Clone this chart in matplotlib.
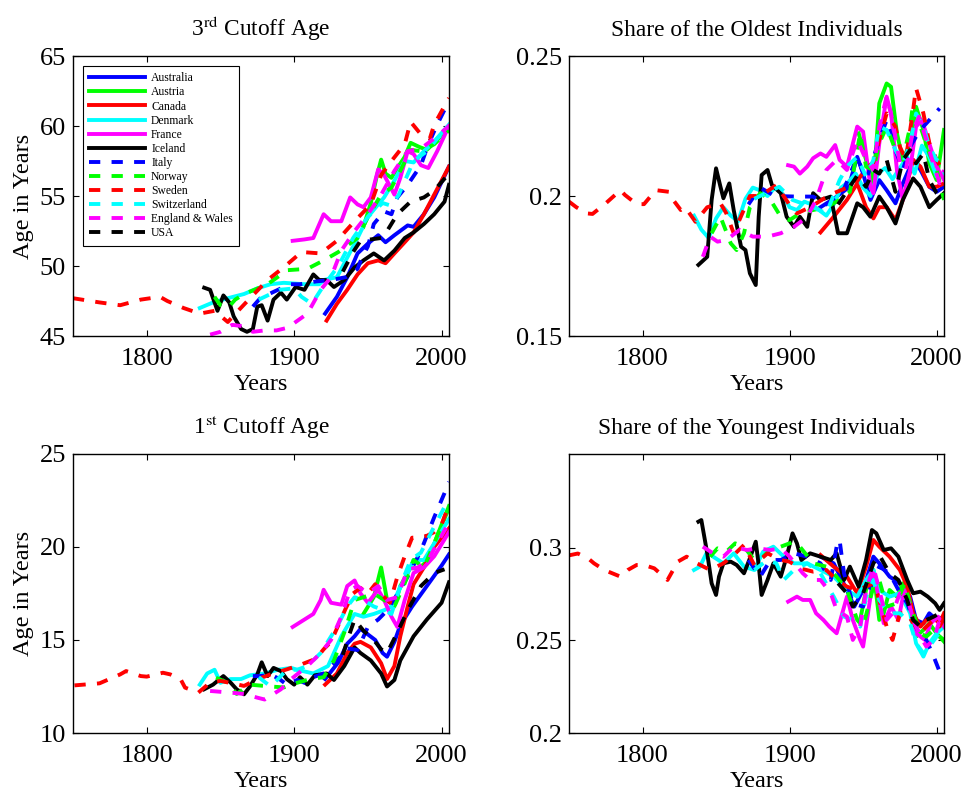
import matplotlib
matplotlib.use("Agg")
import matplotlib.pyplot as plt

plt.rcParams['font.family'] = ['Liberation Serif', 'DejaVu Serif']
plt.rcParams['mathtext.fontset'] = 'stix'

countries = ['Australia', 'Austria', 'Canada', 'Denmark', 'France', 'Iceland',
             'Italy', 'Norway', 'Sweden', 'Switzerland', 'England & Wales', 'USA']
colors = ['#0000ff', '#00ff00', '#ff0000', '#00ffff', '#ff00ff', '#000000',
          '#0000ff', '#00ff00', '#ff0000', '#00ffff', '#ff00ff', '#000000']
dashed = [False] * 6 + [True] * 6

# ---- 3rd cutoff age (top left) ----
c3_australia = [(1921, 46.6), (1929, 47.8), (1936, 49.2), (1943, 50.9), (1950, 51.6), (1957, 52.2), (1962, 51.7),
                (1968, 52.2), (1977, 52.9), (1981, 52.8), (1988, 53.7), (1995, 54.9), (2005, 57.1)]
c3_austria = [(1947, 52.8), (1952, 54.5), (1956, 56.4), (1959, 57.6), (1962, 56.6), (1966, 56.3), (1970, 57.0),
              (1975, 57.8), (1979, 58.8), (1985, 58.5), (1990, 58.3), (1995, 58.8), (2005, 59.8)]
c3_canada = [(1922, 46.1), (1929, 47.3), (1936, 48.3), (1943, 49.4), (1950, 50.2), (1957, 50.4), (1962, 50.2),
             (1968, 50.9), (1975, 51.7), (1981, 52.4), (1988, 53.7), (1995, 55.1), (2005, 57.1)]
c3_denmark = [(1836, 47.0), (1845, 47.4), (1855, 47.7), (1866, 48.0), (1875, 48.4), (1884, 48.7), (1893, 48.8),
              (1907, 48.7), (1917, 48.7), (1920, 49.0), (1929, 49.2), (1936, 50.6), (1943, 52.0), (1950, 53.5),
              (1957, 54.4), (1961, 54.9), (1968, 56.1), (1975, 57.5), (1981, 57.4), (1988, 58.2), (1995, 58.9),
              (2005, 60.1)]
c3_france = [(1899, 51.8), (1907, 51.9), (1913, 52.0), (1920, 53.7), (1925, 53.2), (1932, 53.2), (1938, 54.9),
             (1943, 54.4), (1947, 54.2), (1952, 54.9), (1957, 56.9), (1961, 56.5), (1968, 55.1), (1972, 56.3),
             (1977, 58.2), (1981, 58.0), (1986, 57.2), (1991, 57.0), (1997, 58.2), (2005, 60.0)]
c3_iceland = [(1839, 48.45), (1843, 48.3), (1848, 46.8), (1852, 47.9), (1856, 47.4), (1859, 46.4), (1864, 45.5),
              (1868, 45.3), (1872, 45.5), (1875, 47.1), (1878, 47.2), (1882, 46.1), (1886, 47.6), (1891, 48.1),
              (1895, 47.6), (1901, 48.5), (1907, 48.3), (1913, 49.4), (1917, 49.0), (1922, 49.0), (1927, 48.5),
              (1934, 49.0), (1941, 49.9), (1947, 50.4), (1954, 50.9), (1961, 50.4), (1968, 51.1), (1975, 52.0),
              (1981, 52.4), (1988, 53.0), (1995, 53.7), (2002, 54.6), (2005, 55.8)]
c3_italy = [(1872, 47.1), (1877, 47.7), (1885, 48.1), (1897, 48.7), (1904, 48.7), (1915, 48.9), (1925, 49.0),
            (1935, 49.2), (1943, 49.8), (1946, 50.6), (1950, 51.4), (1954, 53.0), (1961, 53.9), (1966, 53.7),
            (1970, 54.9), (1977, 55.8), (1986, 57.2), (1991, 58.7), (1997, 60.1), (2005, 61.8)]
c3_norway = [(1846, 47.8), (1850, 47.2), (1855, 47.0), (1860, 47.6), (1866, 48.0), (1873, 48.3), (1882, 48.7),
             (1890, 49.3), (1895, 49.7), (1909, 49.8), (1920, 50.4), (1930, 51.0), (1943, 52.0), (1950, 53.5),
             (1959, 55.1), (1966, 55.6), (1972, 56.8), (1979, 58.3), (1986, 58.2), (1995, 58.7), (2005, 59.7)]
c3_sweden = [(1750, 47.7), (1768, 47.4), (1782, 47.2), (1796, 47.6), (1809, 47.8), (1814, 47.5), (1825, 47.0),
             (1836, 46.6), (1846, 46.8), (1855, 46.0), (1862, 46.8), (1871, 47.8), (1882, 49.0), (1894, 50.0),
             (1905, 51.0), (1918, 50.9), (1929, 51.8), (1941, 53.2), (1952, 54.4), (1959, 56.5), (1966, 57.5),
             (1975, 58.7), (1979, 60.3), (1986, 59.4), (1992, 59.1), (1995, 60.1), (2005, 62.0)]
c3_switzerland = [(1876, 47.6), (1890, 48.3), (1900, 48.4), (1905, 47.8), (1912, 47.3), (1920, 48.6), (1930, 50.0),
                  (1940, 52.0), (1950, 53.5), (1960, 54.5), (1966, 54.3), (1971, 55.1), (1981, 57.5), (1990, 58.2),
                  (1997, 59.1), (2005, 59.9)]
c3_england = [(1843, 45.1), (1850, 45.3), (1858, 45.8), (1865, 45.7), (1872, 45.3), (1880, 45.4), (1888, 45.4),
              (1896, 45.6), (1901, 46.0), (1909, 46.6), (1918, 48.3), (1925, 49.2), (1932, 51.1), (1941, 52.5),
              (1950, 53.7), (1959, 55.1), (1968, 56.8), (1977, 58.2), (1986, 58.4), (1995, 59.1), (2005, 60.0)]
c3_usa = [(1933, 49.6), (1940, 51.0), (1945, 51.8), (1952, 51.9), (1959, 52.0), (1963, 52.5), (1970, 53.7),
          (1979, 54.6), (1988, 54.9), (1995, 55.4), (2005, 56.6)]

# ---- share of the oldest (top right) ----
old_australia = [(1921, 0.196), (1930, 0.199), (1940, 0.203), (1946, 0.214), (1950, 0.208), (1955, 0.1986),
                 (1961, 0.2057), (1966, 0.2021), (1972, 0.1974), (1977, 0.2045), (1984, 0.2129), (1989, 0.2093),
                 (1995, 0.2033), (2000, 0.2015), (2005, 0.2033)]
old_austria = [(1947, 0.2224), (1952, 0.2129), (1957, 0.2045), (1961, 0.2331), (1966, 0.2402), (1969, 0.239),
               (1973, 0.2224), (1977, 0.2129), (1982, 0.2188), (1986, 0.2319), (1991, 0.2236), (1995, 0.2117),
               (2000, 0.2057), (2005, 0.2236)]
old_canada = [(1921, 0.187), (1930, 0.1926), (1939, 0.1986), (1946, 0.2045), (1952, 0.196), (1957, 0.192),
              (1961, 0.196), (1966, 0.196), (1972, 0.1914), (1977, 0.1986), (1984, 0.2129), (1989, 0.2105),
              (1995, 0.2033), (2000, 0.2033), (2005, 0.2045)]
old_denmark = [(1835, 0.193), (1840, 0.188), (1845, 0.185), (1850, 0.192), (1855, 0.196), (1860, 0.193),
               (1865, 0.191), (1870, 0.199), (1875, 0.203), (1880, 0.202), (1885, 0.200), (1890, 0.203),
               (1895, 0.201), (1900, 0.196), (1905, 0.195), (1910, 0.198), (1915, 0.197), (1920, 0.195),
               (1925, 0.193), (1930, 0.197), (1935, 0.203), (1940, 0.205), (1945, 0.208), (1950, 0.203),
               (1955, 0.200), (1960, 0.208), (1965, 0.210), (1970, 0.206), (1975, 0.210), (1980, 0.214),
               (1985, 0.208), (1990, 0.218), (1995, 0.214), (2000, 0.207), (2005, 0.208)]
old_france = [(1899, 0.211), (1903, 0.2105), (1907, 0.208), (1912, 0.2105), (1916, 0.2135), (1921, 0.2152),
              (1925, 0.214), (1931, 0.2182), (1934, 0.2129), (1939, 0.2105), (1946, 0.2248), (1950, 0.223),
              (1955, 0.2033), (1957, 0.201), (1961, 0.2188), (1966, 0.2355), (1969, 0.2295), (1973, 0.2093),
              (1977, 0.1986), (1982, 0.2093), (1986, 0.2248), (1990, 0.2271), (1995, 0.2188), (2000, 0.2105),
              (2005, 0.2057)]
old_iceland = [(1838, 0.1754), (1844, 0.1783), (1847, 0.1986), (1850, 0.2099), (1853, 0.2033), (1855, 0.1992),
               (1859, 0.2045), (1862, 0.195), (1867, 0.1819), (1870, 0.1807), (1873, 0.1724), (1877, 0.1682),
               (1879, 0.1926), (1881, 0.2075), (1885, 0.2093), (1888, 0.2039), (1894, 0.201), (1898, 0.1926),
               (1903, 0.189), (1907, 0.1926), (1912, 0.189), (1916, 0.201), (1921, 0.1986), (1928, 0.1998),
               (1933, 0.1867), (1939, 0.1867), (1946, 0.1974), (1950, 0.196), (1955, 0.1926), (1961, 0.1998),
               (1966, 0.196), (1972, 0.1902), (1977, 0.1986), (1984, 0.2063), (1989, 0.2033), (1995, 0.196),
               (2000, 0.1986), (2005, 0.201)]
old_italy = [(1872, 0.197), (1880, 0.203), (1890, 0.200), (1905, 0.1998), (1916, 0.1998), (1925, 0.197),
             (1935, 0.200), (1946, 0.214), (1952, 0.2057), (1961, 0.220), (1966, 0.2271), (1972, 0.2164),
             (1977, 0.2093), (1982, 0.2176), (1986, 0.2212), (1991, 0.2248), (1995, 0.2271), (2002, 0.2313)]
old_norway = [(1847, 0.1867), (1853, 0.1926), (1860, 0.1831), (1864, 0.1807), (1869, 0.1867), (1873, 0.196),
              (1880, 0.201), (1887, 0.1986), (1894, 0.1926), (1900, 0.1914), (1907, 0.1938), (1916, 0.195),
              (1925, 0.196), (1934, 0.1986), (1941, 0.2015), (1948, 0.2224), (1952, 0.2105), (1957, 0.2093),
              (1961, 0.2188), (1966, 0.2248), (1972, 0.2164), (1977, 0.2129), (1982, 0.2248), (1984, 0.2331),
              (1989, 0.2248), (1995, 0.2152), (2000, 0.2093), (2005, 0.1986)]
old_sweden = [(1750, 0.198), (1755, 0.196), (1762, 0.1938), (1766, 0.1936), (1775, 0.1974), (1785, 0.2021),
              (1788, 0.2004), (1796, 0.1971), (1801, 0.1971), (1809, 0.2021), (1818, 0.2015), (1820, 0.1992),
              (1826, 0.195), (1829, 0.196), (1836, 0.1908), (1844, 0.196), (1853, 0.1974), (1857, 0.1938),
              (1862, 0.1867), (1868, 0.194), (1873, 0.200), (1880, 0.200), (1891, 0.2039), (1900, 0.1968),
              (1905, 0.1938), (1914, 0.196), (1923, 0.199), (1930, 0.201), (1939, 0.203), (1945, 0.2045),
              (1952, 0.210), (1957, 0.212), (1961, 0.220), (1966, 0.2295), (1972, 0.2248), (1975, 0.2176),
              (1979, 0.213), (1984, 0.2307), (1986, 0.2385), (1991, 0.2295), (1995, 0.219), (2000, 0.213),
              (2005, 0.208)]
old_switzerland = [(1876, 0.199), (1893, 0.2033), (1902, 0.1986), (1916, 0.196), (1925, 0.1938), (1934, 0.2057),
                   (1939, 0.2105), (1946, 0.214), (1952, 0.2069), (1957, 0.2129), (1961, 0.2248), (1966, 0.2236),
                   (1972, 0.2164), (1977, 0.2117), (1982, 0.2188), (1986, 0.2295), (1991, 0.2248), (1995, 0.2176),
                   (2000, 0.2129), (2005, 0.2117)]
old_england = [(1841, 0.1783), (1846, 0.1855), (1851, 0.1837), (1857, 0.1843), (1866, 0.1879), (1875, 0.1855),
               (1885, 0.1855), (1894, 0.1867), (1903, 0.189), (1912, 0.1926), (1918, 0.1986), (1925, 0.2093),
               (1932, 0.2129), (1939, 0.2093), (1946, 0.220), (1952, 0.2129), (1957, 0.2093), (1961, 0.2248),
               (1966, 0.2355), (1970, 0.2271), (1975, 0.2117), (1979, 0.2093), (1984, 0.2236), (1988, 0.2283),
               (1993, 0.220), (1997, 0.2129), (2002, 0.2045), (2005, 0.2093)]
old_usa = [(1933, 0.197), (1946, 0.2073), (1952, 0.2033), (1957, 0.2093), (1961, 0.208), (1966, 0.2129),
           (1972, 0.2015), (1977, 0.2129), (1982, 0.2164), (1986, 0.2117), (1991, 0.2152), (1995, 0.2057),
           (2000, 0.201), (2005, 0.1986)]

# ---- 1st cutoff age (bottom left) ----
c1_australia = [(1921, 12.9), (1930, 13.8), (1936, 14.8), (1941, 15.2), (1945, 15.6), (1950, 15.3), (1955, 15.0),
                (1960, 14.3), (1963, 14.1), (1968, 14.9), (1972, 15.8), (1980, 16.8), (1990, 17.9), (2000, 19.0),
                (2005, 19.6)]
c1_austria = [(1947, 16.4), (1954, 17.3), (1959, 18.9), (1963, 17.15), (1968, 16.8), (1972, 17.9), (1979, 18.9),
              (1984, 18.8), (1991, 19.3), (1997, 20.6), (2005, 22.2)]
c1_canada = [(1921, 12.6), (1929, 13.2), (1936, 14.3), (1941, 14.8), (1945, 14.9), (1952, 14.6), (1959, 13.75),
             (1963, 12.9), (1968, 13.6), (1972, 15.2), (1977, 16.8), (1981, 18.0), (1988, 18.9), (1995, 20.0),
             (2005, 21.0)]
c1_denmark = [(1836, 12.6), (1841, 13.2), (1846, 13.4), (1850, 12.7), (1857, 12.9), (1864, 12.9), (1870, 13.1),
              (1880, 13.2), (1889, 13.4), (1898, 13.5), (1902, 13.4), (1913, 13.2), (1923, 13.6), (1932, 15.2),
              (1941, 16.4), (1947, 16.25), (1954, 16.4), (1961, 16.6), (1966, 16.8), (1970, 17.5), (1977, 18.6),
              (1981, 19.3), (1988, 19.3), (1995, 20.2), (2005, 21.5)]
c1_france = [(1899, 15.7), (1907, 16.1), (1913, 16.4), (1918, 17.15), (1920, 17.7), (1925, 17.0), (1932, 16.9),
             (1936, 17.9), (1941, 18.2), (1945, 17.5), (1950, 17.0), (1957, 17.7), (1961, 17.15), (1966, 16.25),
             (1970, 15.7), (1975, 17.15), (1981, 18.6), (1988, 18.9), (1995, 19.5), (2005, 20.8)]
c1_iceland = [(1839, 12.35), (1845, 12.6), (1852, 13.06), (1857, 12.7), (1861, 12.35), (1866, 12.08), (1870, 12.5),
              (1875, 13.15), (1878, 13.8), (1882, 13.06), (1886, 13.5), (1891, 13.33), (1895, 12.9), (1900, 12.6),
              (1904, 13.0), (1909, 12.6), (1914, 13.1), (1922, 13.2), (1927, 12.85), (1934, 13.6), (1941, 14.6),
              (1945, 14.3), (1952, 13.9), (1959, 13.2), (1963, 12.5), (1968, 12.85), (1972, 13.9), (1981, 15.2),
              (1990, 16.1), (2000, 17.0), (2005, 18.1)]
c1_italy = [(1872, 13.06), (1877, 13.06), (1884, 13.15), (1890, 12.9), (1895, 12.6), (1902, 12.85), (1907, 12.7),
            (1913, 13.0), (1920, 13.2), (1928, 13.8), (1936, 14.55), (1943, 14.46), (1950, 15.7), (1957, 16.1),
            (1962, 16.5), (1968, 17.2), (1977, 18.4), (1986, 19.8), (1995, 21.6), (2002, 22.9), (2005, 23.5)]
c1_norway = [(1847, 12.97), (1855, 12.7), (1861, 12.1), (1870, 12.6), (1884, 12.5), (1893, 12.45), (1902, 12.7),
             (1911, 12.9), (1920, 13.0), (1927, 13.9), (1934, 15.4), (1941, 17.15), (1947, 17.3), (1954, 17.5),
             (1961, 17.15), (1968, 16.8), (1975, 18.05), (1981, 19.3), (1988, 18.9), (1995, 20.2), (2005, 22.1)]
c1_sweden = [(1751, 12.56), (1768, 12.67), (1782, 13.15), (1786, 13.33), (1796, 13.06), (1800, 13.03),
             (1811, 13.24), (1816, 13.15), (1823, 12.89), (1826, 12.44), (1835, 12.17), (1843, 12.71), (1850, 12.8),
             (1861, 12.62), (1866, 12.53), (1875, 12.89), (1884, 13.15), (1895, 13.42), (1905, 13.69), (1915, 14.0),
             (1920, 14.5), (1925, 14.9), (1930, 15.8), (1935, 16.7), (1940, 17.5), (1945, 17.8), (1950, 17.5),
             (1955, 18.0), (1960, 17.4), (1965, 17.0), (1970, 18.4), (1975, 19.5), (1980, 20.5), (1985, 20.5),
             (1990, 20.6), (1995, 20.8), (2000, 21.2), (2005, 22.3)]
c1_switzerland = [(1876, 13.0), (1884, 12.5), (1889, 12.9), (1895, 13.4), (1902, 13.4), (1909, 13.6), (1918, 14.3),
                  (1929, 15.7), (1936, 16.8), (1941, 17.3), (1947, 17.15), (1954, 16.8), (1961, 16.6), (1966, 16.4),
                  (1972, 17.9), (1979, 19.3), (1986, 19.7), (1995, 21.1), (2005, 22.6)]
c1_england = [(1843, 12.26), (1857, 12.17), (1866, 12.1), (1875, 11.9), (1880, 11.8), (1886, 12.1), (1891, 12.35),
              (1898, 12.9), (1909, 13.6), (1918, 14.3), (1925, 15.0), (1932, 16.25), (1938, 17.7), (1943, 17.9),
              (1950, 17.5), (1957, 17.9), (1963, 17.15), (1970, 17.3), (1977, 18.8), (1984, 18.9), (1991, 19.3),
              (1997, 20.2), (2005, 21.3)]
c1_usa = [(1933, 14.2), (1937, 15.2), (1941, 16.1), (1947, 15.5), (1954, 15.0), (1959, 14.5), (1963, 14.3),
          (1970, 15.4), (1977, 16.6), (1986, 17.9), (1995, 18.6), (2002, 18.8)]

# ---- share of the youngest (bottom right) ----
yng_australia = [(1921, 0.2953), (1930, 0.2917), (1939, 0.2773), (1944, 0.2683), (1950, 0.2773), (1957, 0.2953),
                 (1961, 0.2917), (1968, 0.2845), (1975, 0.2809), (1982, 0.2737), (1986, 0.2611), (1991, 0.2593),
                 (1995, 0.2647), (2000, 0.2611), (2005, 0.2629)]
yng_austria = [(1948, 0.2611), (1952, 0.2773), (1957, 0.2881), (1961, 0.2611), (1964, 0.2647), (1968, 0.2773),
               (1973, 0.2737), (1977, 0.2809), (1982, 0.2683), (1986, 0.2521), (1991, 0.2557), (1995, 0.2593),
               (2000, 0.2539), (2005, 0.2494)]
yng_canada = [(1921, 0.2962), (1930, 0.2899), (1939, 0.2845), (1946, 0.2755), (1952, 0.2899), (1957, 0.3043),
              (1961, 0.3007), (1968, 0.2953), (1975, 0.2881), (1980, 0.2791), (1984, 0.2647), (1989, 0.2575),
              (1993, 0.2611), (1998, 0.262), (2002, 0.2593), (2005, 0.2647)]
yng_denmark = [(1835, 0.2881), (1839, 0.2899), (1844, 0.298), (1848, 0.2953), (1855, 0.2917), (1862, 0.2971),
               (1869, 0.2899), (1876, 0.2881), (1882, 0.298), (1889, 0.3007), (1896, 0.2953), (1903, 0.2917),
               (1912, 0.2917), (1921, 0.2881), (1930, 0.2845), (1939, 0.2773), (1946, 0.2737), (1952, 0.2827),
               (1957, 0.2881), (1961, 0.2773), (1968, 0.2737), (1975, 0.2755), (1982, 0.2647), (1986, 0.2485),
               (1991, 0.2413), (1995, 0.2485), (2000, 0.2539), (2005, 0.2575)]
yng_france = [(1899, 0.271), (1905, 0.2737), (1909, 0.2719), (1914, 0.2719), (1918, 0.2647), (1923, 0.2611),
              (1927, 0.2575), (1932, 0.2539), (1939, 0.2737), (1943, 0.2611), (1948, 0.2503), (1950, 0.2467),
              (1955, 0.2737), (1957, 0.2863), (1960, 0.2755), (1964, 0.2593), (1969, 0.2683), (1974, 0.2611),
              (1978, 0.2773), (1983, 0.2647), (1986, 0.2539), (1992, 0.2503), (1996, 0.2593), (2001, 0.2629),
              (2005, 0.2575)]
yng_iceland = [(1838, 0.3142), (1840, 0.3151), (1844, 0.2971), (1847, 0.2809), (1850, 0.2746), (1852, 0.2845),
               (1855, 0.2917), (1860, 0.2926), (1864, 0.2908), (1869, 0.2863), (1873, 0.2944), (1877, 0.3034),
               (1879, 0.2908), (1881, 0.2746), (1885, 0.2827), (1889, 0.2917), (1894, 0.2845), (1898, 0.2953),
               (1902, 0.3079), (1905, 0.3025), (1908, 0.2935), (1914, 0.2971), (1921, 0.2953), (1928, 0.2935),
               (1932, 0.2971), (1937, 0.2827), (1941, 0.2899), (1947, 0.2791), (1952, 0.2935), (1956, 0.3097),
               (1959, 0.3079), (1964, 0.2989), (1969, 0.2998), (1974, 0.2953), (1980, 0.2827), (1984, 0.2755),
               (1989, 0.2764), (1994, 0.2737), (1999, 0.2701), (2002, 0.2665), (2005, 0.2701)]
yng_italy = [(1872, 0.2935), (1880, 0.2845), (1887, 0.2935), (1894, 0.2935), (1903, 0.2971), (1912, 0.2953),
             (1921, 0.2917), (1928, 0.2827), (1932, 0.3007), (1934, 0.3043), (1937, 0.2863), (1943, 0.2701),
             (1950, 0.2683), (1957, 0.2827), (1961, 0.2899), (1968, 0.2863), (1974, 0.2773), (1980, 0.2701),
             (1984, 0.2611), (1989, 0.2521), (1993, 0.2503), (1998, 0.2413), (2002, 0.2332)]
yng_norway = [(1846, 0.2953), (1851, 0.2998), (1857, 0.298), (1863, 0.3025), (1869, 0.3007), (1876, 0.2935),
              (1882, 0.2953), (1889, 0.3007), (1894, 0.3007), (1903, 0.3034), (1907, 0.3007), (1916, 0.2917),
              (1925, 0.2899), (1932, 0.2845), (1939, 0.2773), (1946, 0.2611), (1950, 0.2575), (1957, 0.2791),
              (1961, 0.2827), (1966, 0.2683), (1973, 0.2701), (1978, 0.2809), (1984, 0.2647), (1989, 0.2539),
              (1993, 0.2521), (1998, 0.2557), (2002, 0.2521), (2005, 0.2503)]
yng_sweden = [(1750, 0.296), (1756, 0.297), (1763, 0.2944), (1767, 0.2917), (1774, 0.2881), (1785, 0.2845),
              (1790, 0.2881), (1796, 0.2908), (1801, 0.2908), (1808, 0.289), (1817, 0.2827), (1824, 0.2926),
              (1830, 0.2953), (1837, 0.2917), (1846, 0.2881), (1855, 0.2917), (1862, 0.2962), (1869, 0.3016),
              (1876, 0.2908), (1885, 0.2971), (1894, 0.2935), (1900, 0.2926), (1907, 0.289), (1916, 0.2872),
              (1925, 0.2881), (1932, 0.2827), (1939, 0.2791), (1946, 0.2773), (1952, 0.2791), (1957, 0.2809),
              (1961, 0.2719), (1966, 0.2575), (1970, 0.2503), (1975, 0.2647), (1980, 0.2647), (1984, 0.2593),
              (1989, 0.2539), (1993, 0.2575), (1998, 0.2611), (2002, 0.2575), (2005, 0.262)]
yng_switzerland = [(1876, 0.2881), (1885, 0.2935), (1891, 0.2917), (1896, 0.2827), (1903, 0.2881), (1912, 0.2917),
                   (1921, 0.2863), (1930, 0.2737), (1937, 0.2629), (1943, 0.2611), (1948, 0.2575), (1952, 0.2737),
                   (1957, 0.2827), (1961, 0.2719), (1968, 0.2647), (1975, 0.2647), (1982, 0.2593), (1986, 0.2485),
                   (1991, 0.2431), (1995, 0.2467), (2000, 0.2521), (2005, 0.2575)]
yng_england = [(1841, 0.3007), (1848, 0.2971), (1855, 0.2953), (1862, 0.3007), (1871, 0.2989), (1878, 0.2998),
               (1887, 0.2989), (1894, 0.2998), (1900, 0.2953), (1909, 0.2863), (1914, 0.2827), (1921, 0.2827),
               (1928, 0.2755), (1932, 0.2665), (1939, 0.2629), (1943, 0.2503), (1948, 0.2575), (1952, 0.2773),
               (1957, 0.2899), (1961, 0.2773), (1966, 0.2611), (1970, 0.2647), (1975, 0.2755), (1980, 0.2737),
               (1984, 0.2611), (1989, 0.2521), (1993, 0.2467), (1998, 0.2503), (2002, 0.2611), (2005, 0.2593)]
yng_usa = [(1933, 0.2809), (1939, 0.2755), (1943, 0.2683), (1950, 0.2755), (1957, 0.2917), (1961, 0.2962),
           (1968, 0.2863), (1974, 0.2827), (1980, 0.2719), (1984, 0.2611), (1989, 0.2575), (1993, 0.2611),
           (1998, 0.2629), (2002, 0.2647)]

cut3 = [c3_australia, c3_austria, c3_canada, c3_denmark, c3_france, c3_iceland,
        c3_italy, c3_norway, c3_sweden, c3_switzerland, c3_england, c3_usa]
oldest = [old_australia, old_austria, old_canada, old_denmark, old_france, old_iceland,
          old_italy, old_norway, old_sweden, old_switzerland, old_england, old_usa]
cut1 = [c1_australia, c1_austria, c1_canada, c1_denmark, c1_france, c1_iceland,
        c1_italy, c1_norway, c1_sweden, c1_switzerland, c1_england, c1_usa]
youngest = [yng_australia, yng_austria, yng_canada, yng_denmark, yng_france, yng_iceland,
            yng_italy, yng_norway, yng_sweden, yng_switzerland, yng_england, yng_usa]

fig = plt.figure(figsize=(9.68, 7.97), dpi=100)
ax_tl = fig.add_axes([0.0754, 0.5784, 0.3884, 0.3513])
ax_tr = fig.add_axes([0.5878, 0.5784, 0.3874, 0.3513])
ax_bl = fig.add_axes([0.0754, 0.0803, 0.3884, 0.3501])
ax_br = fig.add_axes([0.5878, 0.0803, 0.3874, 0.3501])

lw = 2.8
panels = [
    (ax_tl, cut3, r'3$^{\mathrm{rd}}$ Cutoff Age', (45, 65), [45, 50, 55, 60, 65], ['45', '50', '55', '60', '65']),
    (ax_tr, oldest, 'Share of the Oldest Individuals', (0.15, 0.25), [0.15, 0.2, 0.25], ['0.15', '0.2', '0.25']),
    (ax_bl, cut1, r'1$^{\mathrm{st}}$ Cutoff Age', (10, 25), [10, 15, 20, 25], ['10', '15', '20', '25']),
    (ax_br, youngest, 'Share of the Youngest Individuals', (0.2, 0.3508), [0.2, 0.25, 0.3], ['0.2', '0.25', '0.3']),
]

for ax, series, title, ylim, yt, ytl in panels:
    for name, pts, col, dsh in zip(countries, series, colors, dashed):
        yrs = [p[0] for p in pts]
        vals = [p[1] for p in pts]
        if dsh:
            ax.plot(yrs, vals, color=col, lw=lw, dashes=(2.9, 2.9), label=name)
        else:
            ax.plot(yrs, vals, color=col, lw=lw, label=name)
    ax.set_xlim(1750, 2005)
    ax.set_ylim(*ylim)
    ax.set_xticks([1800, 1900, 2000])
    ax.set_yticks(yt)
    ax.set_yticklabels(ytl)
    ax.tick_params(direction='in', top=True, right=True, labelsize=19, length=4)
    ax.tick_params(axis='x', pad=8.3)
    ax.tick_params(axis='y', pad=5)
    ax.set_title(title, fontsize=16.8, pad=14.5)
    ax.set_xlabel('Years', fontsize=17.5, labelpad=3)
    for s in ax.spines.values():
        s.set_linewidth(1.0)

ax_tl.set_ylabel('Age in Years', fontsize=17.5)
ax_bl.set_ylabel('Age in Years', fontsize=17.5)

leg = ax_tl.legend(loc='upper left', fontsize=8.4, handlelength=4.8, handletextpad=0.5,
                   labelspacing=0.18, borderpad=0.55, borderaxespad=0.85, fancybox=False,
                   framealpha=1, edgecolor='black')
leg.get_frame().set_linewidth(0.8)

fig.savefig('out.png', dpi=100)
